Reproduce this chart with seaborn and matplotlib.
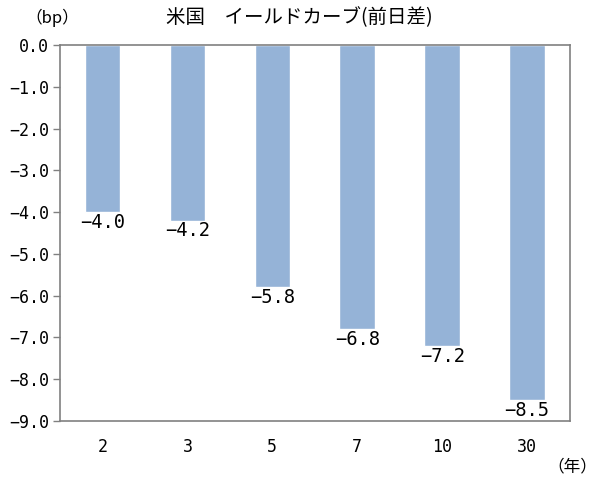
import matplotlib
matplotlib.use("Agg")
import matplotlib.pyplot as plt
import seaborn as sns
import pandas as pd

maturities = ["2", "3", "5", "7", "10", "30"]
changes = [-4.0, -4.2, -5.8, -6.8, -7.2, -8.5]
yticks = [-9, -8, -7, -6, -5, -4, -3, -2, -1, 0]

sns.set_style("white")
plt.rcParams["font.family"] = ["DejaVu Sans Mono", "Noto Sans CJK JP"]
plt.rcParams["text.color"] = "black"
plt.rcParams["xtick.color"] = "black"
plt.rcParams["ytick.color"] = "black"

df = pd.DataFrame({"maturity": maturities, "change": changes})

fig = plt.figure(figsize=(5.96, 4.8), dpi=100)
ax = fig.add_axes([0.1007, 0.123, 0.855, 0.783])

sns.barplot(data=df, x="maturity", y="change", color="#95B3D7", saturation=1,
            width=0.42, ax=ax)


def fmt(v):
    s = f"{v:.1f}"
    return s.replace("-", "\u2212")


ax.set_ylim(-9, 0)
ax.set_yticks(yticks)
ax.set_yticklabels([fmt(t) for t in yticks], fontsize=12)
ax.tick_params(axis="y", length=5, width=1, color="#808080", labelcolor="black",
               left=True, pad=3)
ax.tick_params(axis="x", length=0, labelsize=12, labelcolor="black", pad=12)
ax.set_xlabel("")
ax.set_ylabel("")

for s in ax.spines.values():
    s.set_color("#808080")
    s.set_linewidth(1.2)

for i, v in enumerate(changes):
    ax.text(i, v - 0.02, fmt(v), ha="center", va="top", fontsize=13.5, color="black")

cjk = ["Noto Sans CJK JP", "DejaVu Sans"]
fig.text(0.503, 0.963, "米国\u3000イールドカーブ(前日差)", ha="center", va="center",
         fontsize=14, family=cjk, color="black")
fig.text(0.042, 0.963, "（bp）", ha="left", va="center", fontsize=12, family=cjk,
         color="black")
fig.text(1.002, 0.027, "（年）", ha="right", va="center", fontsize=12, family=cjk,
         color="black")

fig.savefig("out.png", dpi=100)
